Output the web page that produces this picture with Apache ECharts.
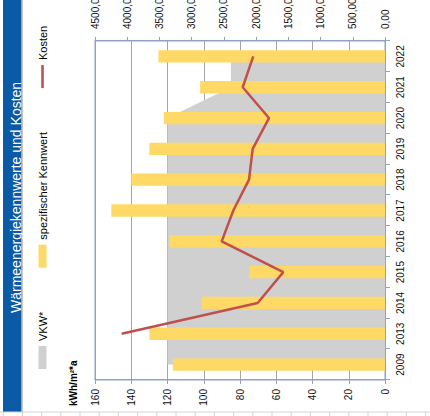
<!DOCTYPE html>
<html>
<head>
<meta charset="utf-8">
<script src="https://cdn.jsdelivr.net/npm/echarts@6/dist/echarts.min.js"></script>
<style>
  html, body { margin: 0; padding: 0; width: 430px; height: 416px; overflow: hidden; background: #fff; }
  /* the chart is laid out upright and then turned a quarter turn counter-clockwise */
  #chart { position: absolute; left: 0; top: 0; width: 440px; height: 430px;
           transform-origin: 0 0; transform: translate(0, 416px) rotate(-90deg); }
</style>
</head>
<body>
<div id="chart"></div>
<script>
// Years shown on the category axis
const years = ['2009', '2013', '2014', '2015', '2016', '2017', '2018', '2019', '2020', '2021', '2022'];
// VKW* reference value, kWh/m²*a
const vkw = [120, 120, 120, 120, 120, 120, 120, 120, 120, 85, 85];
// specific heat energy value, kWh/m²*a
const kennwert = [117, 130, 101, 75, 119, 151, 140, 130, 122, 102, 125];
// heating costs (no figure for 2009)
const kosten = [null, 4086, 1976, 1578, 2534, 2354, 2110, 2053, 1800, 2208, 2044];
// axis ranges
const kwhRange = { min: 0, max: 160, step: 20 };
const costRange = { min: 0, max: 4500, step: 500 };

const FONT = "'Liberation Sans', Arial, sans-serif";
const AXIS_BLUE = '#8ea3c4';
const GRID_GRAY = '#a6a6a6';

const chart = echarts.init(document.getElementById('chart'), null, { renderer: 'svg' });

// grid lines: plain grey, the top one at the axis maximum in the frame colour
const gridColors = [];
for (let v = kwhRange.min; v <= kwhRange.max; v += kwhRange.step) {
  gridColors.push(v === kwhRange.max ? AXIS_BLUE : GRID_GRAY);
}

// light sheet lines around the chart
const sheetLines = [
  { type: 'line', shape: { x1: 0, y1: 22.5, x2: 440, y2: 22.5 }, style: { stroke: '#c8c8c8', lineWidth: 1 } },
  { type: 'line', shape: { x1: 4, y1: 0, x2: 4, y2: 430 }, style: { stroke: '#d4d4d4', lineWidth: 1 } }
];
for (let v = 3.2; v < 430; v += 19.2) {
  sheetLines.push({ type: 'line', shape: { x1: 0, y1: v, x2: 4, y2: v }, style: { stroke: '#d4d4d4', lineWidth: 1 } });
}

chart.setOption({
  animation: false,
  textStyle: { fontFamily: FONT },
  title: {
    text: 'Wärmeenergiekennwerte und Kosten',
    left: 98,
    top: 4,
    textStyle: { color: '#ffffff', fontSize: 14, fontWeight: 'normal', fontFamily: FONT }
  },
  legend: {
    left: 47,
    top: 37,
    orient: 'horizontal',
    itemWidth: 23,
    itemHeight: 8,
    itemGap: 44,
    padding: 0,
    textStyle: { fontSize: 11, color: '#000', fontFamily: FONT },
    data: [
      { name: 'VKW*', icon: 'rect' },
      { name: 'spezifischer Kennwert', icon: 'rect' },
      // a plain stroke for the cost line
      { name: 'Kosten', icon: 'path://M0,0 L23,0 L23,2.6 L0,2.6 Z' }
    ]
  },
  graphic: [
    { type: 'rect', z: -10, shape: { x: 4, y: 3, width: 440, height: 18.5 }, style: { fill: '#0a5aa5' } },
    ...sheetLines,
    {
      type: 'text', x: 10, y: 73,
      style: { text: 'kWh/m²*a', fontSize: 10, fontWeight: 'bold', fontFamily: FONT, fill: '#000',
               verticalAlign: 'middle', align: 'left' }
    }
  ],
  grid: { left: 36, right: 65, top: 95, bottom: 45, show: true, borderColor: AXIS_BLUE, borderWidth: 1 },
  xAxis: {
    type: 'category',
    data: years,
    boundaryGap: true,
    axisLine: { lineStyle: { color: AXIS_BLUE } },
    axisTick: { show: true, length: 5, lineStyle: { color: AXIS_BLUE } },
    axisLabel: { color: '#111', fontSize: 10, margin: 10 },
    splitLine: { show: false }
  },
  yAxis: [
    {
      type: 'value',
      position: 'left',
      min: kwhRange.min, max: kwhRange.max, interval: kwhRange.step,
      axisLine: { show: true, lineStyle: { color: AXIS_BLUE } },
      axisTick: { show: true, length: 4, lineStyle: { color: AXIS_BLUE } },
      axisLabel: { color: '#111', fontSize: 10, margin: 9 },
      splitLine: { show: true, lineStyle: { color: gridColors, width: 1 } }
    },
    {
      type: 'value',
      position: 'right',
      min: costRange.min, max: costRange.max, interval: costRange.step,
      axisLine: { show: true, lineStyle: { color: AXIS_BLUE } },
      axisTick: { show: true, length: 4, lineStyle: { color: AXIS_BLUE } },
      axisLabel: {
        color: '#111', fontSize: 10, margin: 12,
        formatter: v => v.toFixed(2).replace('.', ',')
      },
      splitLine: { show: false }
    }
  ],
  series: [
    {
      name: 'VKW*',
      type: 'line',
      yAxisIndex: 0,
      data: vkw,
      symbol: 'none',
      lineStyle: { width: 0, color: '#d0d0d0' },
      itemStyle: { color: '#d0d0d0' },
      areaStyle: { color: '#d0d0d0', opacity: 1 },
      z: 1
    },
    {
      name: 'spezifischer Kennwert',
      type: 'bar',
      yAxisIndex: 0,
      data: kennwert,
      barCategoryGap: '60%',
      itemStyle: { color: '#ffd966' },
      z: 2
    },
    {
      name: 'Kosten',
      type: 'line',
      yAxisIndex: 1,
      data: kosten,
      symbol: 'none',
      connectNulls: false,
      lineStyle: { width: 2.5, color: '#c0504d' },
      itemStyle: { color: '#c0504d' },
      z: 3
    }
  ]
});
</script>
</body>
</html>
